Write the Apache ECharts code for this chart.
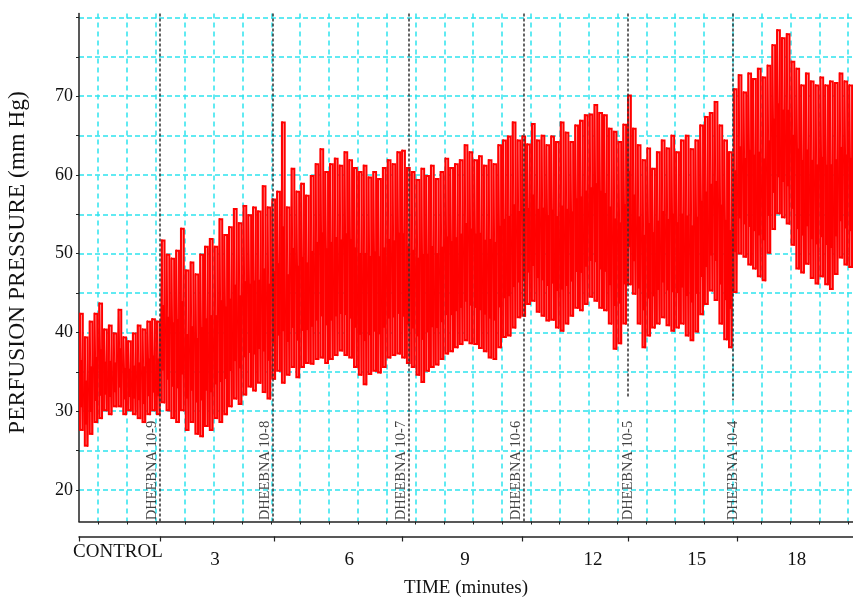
<!DOCTYPE html>
<html><head><meta charset="utf-8">
<script src="https://cdn.jsdelivr.net/npm/echarts@6/dist/echarts.min.js"></script>
<style>html,body{margin:0;padding:0;background:#fff}#c{width:853px;height:599px}</style>
</head><body><div id="c"></div>
<script>
// Perfusion pressure trace: peak and trough (mm Hg) for each consecutive time sample
const binHigh = [
  42.5, 39.5, 41.5, 42.5, 43.8, 40.5, 41, 40, 43, 39.5, 39, 40, 41, 40.5, 41.5, 41.8, 41.5,
  51.8, 50, 49.5, 50.5, 53.3, 48, 49, 47.5, 50, 51, 52, 51, 54.5, 52.5, 53.5, 55.8, 54, 56.2, 55, 56, 55.5, 58.7, 56,
  57, 58, 66.8, 56, 60.9, 58, 59, 57.5, 60, 61.5, 63.4, 60.5, 61.5, 62.2, 61.3, 63, 62, 61, 60.5, 61.3, 59.8, 60.5, 59.6, 61, 62, 61.5, 63, 63.2,
  61, 60.5, 59.5, 60.9, 60, 61.3, 59.6, 60.5, 62.2, 61, 61.5, 62, 63.9, 63, 62, 62.5, 61.3, 62, 61.5, 63.9, 64.5, 65, 66.8, 64.5,
  65, 64, 66.6, 64.5, 65.1, 63.9, 65, 64.3, 66.8, 65.5, 64.3, 66.4, 67, 67.7, 67.8, 69, 68, 67.7, 66, 65.6, 64.3, 66.5,
  70.2, 66, 63.9, 62, 63.5, 60.9, 63, 64.5, 63.5, 65.1, 63, 64.5, 65.1, 63.4, 64.5, 66.4, 67.5, 68, 69.4, 66.4, 64.5, 63,
  71, 72.8, 70.6, 73, 72.3, 73.6, 72.5, 74, 76.6, 78.5, 77.5, 78, 74.5, 73.6, 71.5, 73, 72, 71.5, 72.5, 71.5, 72, 71.8, 73, 72, 71.5
];
const binLow = [
  27.5, 25.5, 27, 28.5, 29, 30, 29.5, 30.5, 30.5, 29.5, 30, 29.5, 29, 28.5, 29.5, 30, 29.5,
  31, 30, 29, 28.5, 30, 27.5, 28.5, 27, 26.7, 28, 27.5, 29, 28.5, 29.5, 30.5, 31.5, 30.8, 32, 33, 32.5, 33.5, 32.3, 31.5,
  34, 35, 33.5, 34.5, 35.5, 34.2, 35.5, 36, 35.9, 36.5, 36.7, 36, 36.5, 37, 37.6, 37, 36.7, 35.5, 34.5, 33.3, 34.6, 35, 34.8, 35.5, 36.7, 37, 37.2, 36.7,
  36, 35.5, 34.5, 33.6, 35, 35.5, 35.8, 36.5, 37.2, 37.5, 38, 38.4, 38.9, 38.5, 38.4, 37.9, 37.5, 36.7, 36.5, 38, 39.3, 39.5, 40.5, 41.8,
  42, 43.5, 43.9, 42.5, 42, 41.4, 41.5, 40.5, 40.1, 41, 42, 43, 42.7, 43.5, 44.4, 43.9, 43, 42.7, 41, 37.8, 38.5, 41,
  46, 44.8, 41, 38, 39.5, 40.5, 41, 41.8, 40.8, 40.1, 40.5, 41, 39.5, 38.9, 40, 42.2, 43.5, 45.2, 44, 41, 39, 38,
  45, 49.9, 49.5, 48.5, 48, 47, 46.5, 50, 53, 55, 54.5, 53.7, 51, 48, 47.5, 48.6, 46.8, 46.1, 47, 46, 45.4, 47.3, 49.4, 48.5, 48.2
];
// drug additions (sample position) and their names
const eventNames = ['DHEEBNA 10-9', 'DHEEBNA 10-8', 'DHEEBNA 10-7', 'DHEEBNA 10-6', 'DHEEBNA 10-5', 'DHEEBNA 10-4'];
const eventBins = [16.85, 40.3, 68.6, 92.45, 114.2, 136.05];
const eventLineBottom = [null, null, null, null, 31.7, 31.4];
// time axis
const timeLabels = ['CONTROL', '3', '6', '9', '12', '15', '18'];
const timeLabelBins = [8.1, 28.3, 56.2, 80.3, 106.9, 128.5, 149.3];
const segmentTickBins = [0, 16.85, 40.6, 67.2, 92.2, 114.2, 136.9];
const gridTickBins = [4, 10, 16, 22, 28, 34, 40, 46, 52, 58, 64, 70, 76, 82, 88, 94, 100, 106, 112, 118, 124, 130, 136, 142, 148, 154, 160];
// pressure axis
const yGridValues = [20, 25, 30, 35, 40, 45, 50, 55, 60, 65, 70, 75, 80];
const yLabelValues = [20, 30, 40, 50, 60, 70];

const FONT = 'Liberation Serif';
const CYAN = '#2ee3ee';
const trace = [];
binHigh.forEach((h, i) => { trace.push([i + 0.25, h]); trace.push([i + 0.75, binLow[i]]); });
const ranges = binHigh.map((h, i) => [i, binLow[i], h]);

const eventLines = eventBins.map((b, i) => eventLineBottom[i] == null
  ? { xAxis: b }
  : [{ coord: [b, 80.5] }, { coord: [b, eventLineBottom[i]] }]);

const chart = echarts.init(document.getElementById('c'), null, { renderer: 'canvas' });
chart.setOption({
  animation: false,
  backgroundColor: '#fff',
  grid: { left: 79, right: 0, top: 13.5, bottom: 77.5, outerBoundsMode: 'none' },
  xAxis: [{
    type: 'value', min: 0, max: 161, position: 'bottom',
    axisLine: { show: true, onZero: false, lineStyle: { color: '#222', width: 1.5 } },
    axisTick: { show: true, customValues: gridTickBins, length: 3, lineStyle: { color: '#222', width: 1 } },
    splitLine: { show: true, lineStyle: { color: CYAN, type: [5, 4], width: 1.5 } },
    axisLabel: { show: false }
  }, {
    type: 'value', min: 0, max: 161, position: 'bottom', offset: 15,
    axisLine: { show: true, onZero: false, lineStyle: { color: '#222', width: 1.5 } },
    axisTick: { show: true, customValues: segmentTickBins, length: 5, lineStyle: { color: '#222', width: 1.2 } },
    splitLine: { show: false },
    axisLabel: {
      show: true, customValues: timeLabelBins, margin: 6,
      fontFamily: FONT, fontSize: 19, color: '#111',
      formatter: v => {
        const i = timeLabelBins.findIndex(b => Math.abs(b - v) < 1e-6);
        if (i < 0) return '';
        return i === 0 ? '{c|' + timeLabels[i] + '}' : '{n|' + timeLabels[i] + '}';
      },
      rich: {
        c: { fontFamily: FONT, fontSize: 19, color: '#111' },
        n: { fontFamily: FONT, fontSize: 19, color: '#111', padding: [8, 0, 0, 0] }
      }
    },
    name: 'TIME (minutes)', nameLocation: 'middle', nameGap: 42,
    nameTextStyle: { fontFamily: FONT, fontSize: 19, color: '#111' }
  }],
  yAxis: {
    type: 'value', min: 16, max: 80.5,
    axisLine: { show: true, lineStyle: { color: '#222', width: 1.5 } },
    axisTick: { show: true, customValues: yGridValues, length: 3, lineStyle: { color: '#222' } },
    splitLine: { show: true, lineStyle: { color: CYAN, type: [5, 3], width: 1.5 } },
    axisLabel: { show: true, customValues: yLabelValues, margin: 6, fontFamily: FONT, fontSize: 18, color: '#111' },
    name: 'PERFUSION PRESSURE (mm Hg)', nameLocation: 'middle', nameGap: 49,
    nameTextStyle: { fontFamily: FONT, fontSize: 23.5, color: '#111', padding: [0, 0, 0, 10] }
  },
  series: [{
    type: 'custom', xAxisIndex: 0, silent: true, z: 2,
    data: ranges,
    encode: { x: 0, y: [1, 2] },
    renderItem: (params, api) => {
      const i = api.value(0), lo = api.value(1), hi = api.value(2);
      const pHi = api.coord([i, hi]);
      const pLo = api.coord([i + 1, lo]);
      const pMid = api.coord([i + 0.5, hi]);
      const h = pLo[1] - pHi[1];
      return {
        type: 'group',
        children: [{
          type: 'rect',
          shape: { x: pHi[0], y: pHi[1], width: pLo[0] - pHi[0], height: h },
          style: { fill: '#ff0000' }
        }, {
          type: 'line',
          shape: { x1: pMid[0], y1: pHi[1] + 2, x2: pMid[0], y2: pHi[1] + h * 0.4 },
          style: { stroke: 'rgba(255,235,235,0.75)', lineWidth: 0.9 }
        }, {
          type: 'line',
          shape: { x1: pMid[0], y1: pLo[1] - 2, x2: pMid[0], y2: pLo[1] - h * 0.2 },
          style: { stroke: 'rgba(255,235,235,0.6)', lineWidth: 0.8 }
        }]
      };
    }
  }, {
    type: 'line', xAxisIndex: 0, data: trace, symbol: 'none', silent: true,
    lineStyle: { color: '#ff0000', width: 1 },
    markLine: {
      silent: true, symbol: ['none', 'none'], label: { show: false },
      lineStyle: { color: '#333', type: [3, 2], width: 1.5 },
      data: eventLines
    },
    z: 3
  }, {
    type: 'scatter', xAxisIndex: 0, silent: true, symbolSize: 1,
    itemStyle: { color: 'rgba(0,0,0,0)' },
    data: eventBins.map((b, i) => ({ value: [b, 16.15], label: { verticalAlign: i < 4 ? 'bottom' : 'middle' } })),
    label: {
      show: true, position: 'inside', rotate: 90, align: 'left',
      fontFamily: FONT, fontSize: 14.5, color: '#111',
      formatter: p => eventNames[p.dataIndex]
    },
    z: 4
  }]
});
</script></body></html>
